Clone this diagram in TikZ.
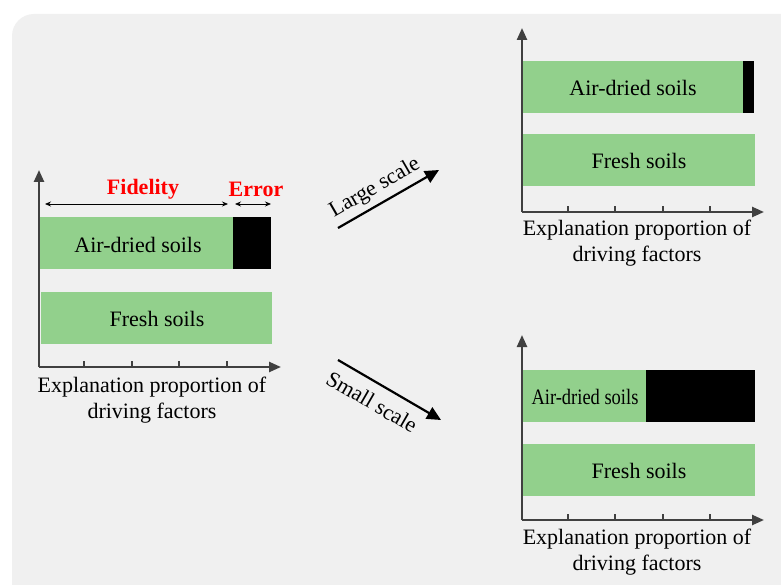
\documentclass[tikz,border=0pt]{standalone}
\usepackage{fontspec}
\setmainfont{Liberation Serif}
\usetikzlibrary{arrows.meta}
\definecolor{bg}{RGB}{240,240,240}
\definecolor{barg}{RGB}{146,208,140}
\definecolor{axc}{RGB}{64,64,64}
\definecolor{fidred}{RGB}{255,0,0}
\tikzset{
  axis/.style={draw=axc,line width=2.4pt,-{Triangle[length=12pt,width=10pt]}},
  tick/.style={draw=axc,line width=2pt},
  bar/.style={fill=barg,draw=none},
  err/.style={fill=black,draw=none},
  lbl/.style={font=\fontsize{22}{26}\selectfont,inner sep=0pt},
  axlbl/.style={font=\fontsize{22}{26.5}\selectfont,align=center,inner sep=0pt},
  red/.style={font=\fontsize{22}{26}\selectfont\bfseries,text=fidred,inner sep=0pt},
  dim/.style={draw=black,line width=0.8pt,{Stealth[length=6pt,width=5pt]}-{Stealth[length=6pt,width=5pt]}},
  scalearrow/.style={draw=black,line width=2.2pt,-{Triangle[length=14pt,width=13pt]}},
}
\begin{document}
\begin{tikzpicture}[x=1pt,y=-1pt]
\useasboundingbox (0,0) rectangle (781,585);
\fill[white] (0,0) rectangle (781,585);
\fill[bg,rounded corners=22pt] (12,14) rectangle (820,620);
% ---------- left chart ----------
\coordinate (L0) at (39,367);
\coordinate (Ly) at (39,170);
\coordinate (Lx) at (281,367);
\fill[bar] (40,217) rectangle (233,269);
\fill[err] (233,217) rectangle (271,269);
\fill[bar] (41,292) rectangle (272,344);
\foreach \t in {84,132,179,227}{\draw[tick] (\t,367) -- (\t,361);}
\draw[axis] (L0) -- (Ly);
\draw[axis] (L0) -- (Lx);
\node[lbl] (la) at (138,245) {Air-dried soils};
\node[lbl] (lf) at (157,319) {Fresh soils};
\coordinate (fa) at (45,204);
\coordinate (fb) at (228,204);
\coordinate (ea) at (235,204);
\coordinate (eb) at (271,204);
\draw[dim] (fa) -- (fb);
\draw[dim] (ea) -- (eb);
\node[red] (fid) at (143,189) {Fidelity};
\node[red] (errl) at (256,189) {Error};
\node[axlbl] (lx) at (152,400) {Explanation proportion of\\driving factors};
% ---------- top right chart ----------
\coordinate (T0) at (522,212);
\coordinate (Ty) at (522,28);
\coordinate (Tx) at (764,212);
\fill[bar] (523,61) rectangle (743,113);
\fill[err] (743,61) rectangle (754,113);
\fill[bar] (523,134) rectangle (755,186);
\foreach \t in {568,615,663,710}{\draw[tick] (\t,212) -- (\t,206);}
\draw[axis] (T0) -- (Ty);
\draw[axis] (T0) -- (Tx);
\node[lbl] (ta) at (633,88) {Air-dried soils};
\node[lbl] (tf) at (639,161) {Fresh soils};
\node[axlbl] (tx) at (637,243) {Explanation proportion of\\driving factors};
% ---------- bottom right chart ----------
\coordinate (B0) at (522,520);
\coordinate (By) at (522,335);
\coordinate (Bx) at (764,520);
\fill[bar] (523,370) rectangle (646,422);
\fill[err] (646,370) rectangle (755,422);
\fill[bar] (523,444) rectangle (755,496);
\foreach \t in {568,615,663,710}{\draw[tick] (\t,520) -- (\t,514);}
\draw[axis] (B0) -- (By);
\draw[axis] (B0) -- (Bx);
\node[lbl] (ba) at (585,397) {\scalebox{0.84}[1]{Air-dried soils}};
\node[lbl] (bf) at (639,471) {Fresh soils};
\node[axlbl] (bx) at (637,552) {Explanation proportion of\\driving factors};
% ---------- scale arrows ----------
\coordinate (la1) at (338,228);
\coordinate (la2) at (439,170);
\draw[scalearrow] (la1) -- (la2);
\node[lbl,rotate=30] (lst) at (375,188) {Large scale};
\coordinate (sa1) at (338,360);
\coordinate (sa2) at (441,420);
\draw[scalearrow] (sa1) -- (sa2);
\node[lbl,rotate=-30] (sst) at (372,402) {Small scale};
\end{tikzpicture}
\end{document}
